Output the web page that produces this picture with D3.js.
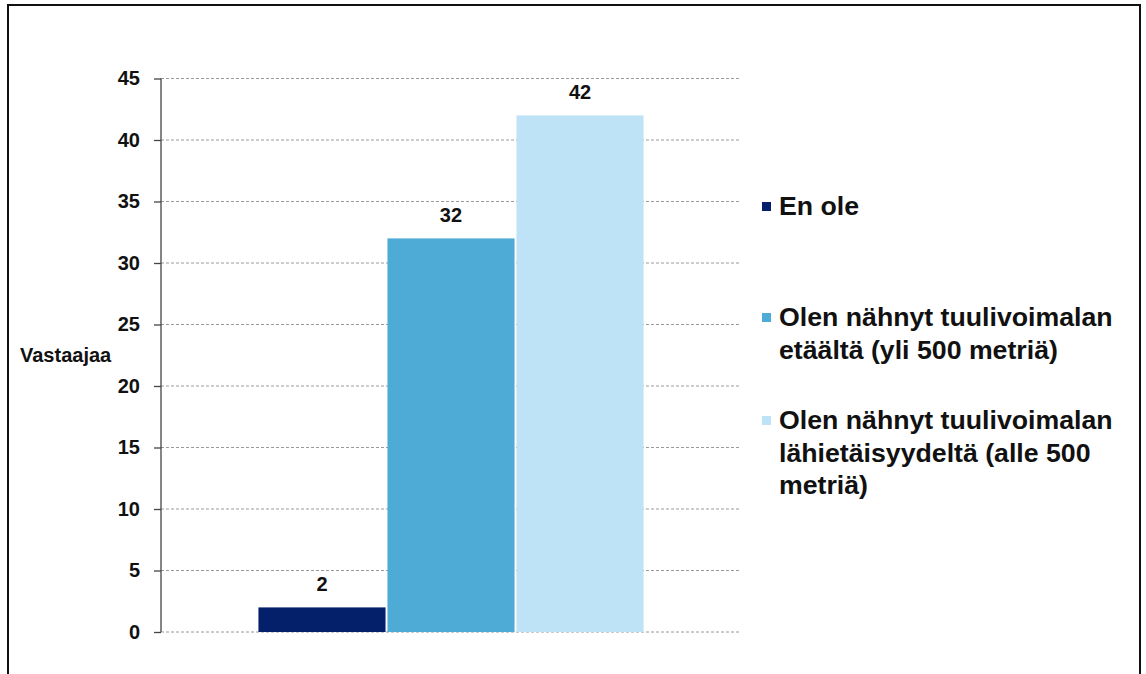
<!DOCTYPE html>
<html>
<head>
<meta charset="utf-8">
<script src="https://d3js.org/d3.v7.min.js"></script>
<style>
  body { margin: 0; background: #fff; }
  svg { display: block; font-family: Arial, "Liberation Sans", sans-serif; font-weight: bold; }
</style>
</head>
<body>
<script>
// data
var categories = [""];
var seriesNames = ["En ole",
  "Olen nähnyt tuulivoimalan etäältä (yli 500 metriä)",
  "Olen nähnyt tuulivoimalan lähietäisyydeltä (alle 500 metriä)"];
var seriesValues = [2, 32, 42];
var legendLines = [["En ole"],
  ["Olen nähnyt tuulivoimalan", "etäältä (yli 500 metriä)"],
  ["Olen nähnyt tuulivoimalan", "lähietäisyydeltä (alle 500", "metriä)"]];
var yTicks = [0, 5, 10, 15, 20, 25, 30, 35, 40, 45];
var colors = ["#04206a", "#4eabd6", "#bee3f6"];

var W = 1146, H = 674;
var svg = d3.select("body").append("svg").attr("width", W).attr("height", H);

// frame
svg.append("rect").attr("x", 8).attr("y", 5).attr("width", 1132).attr("height", 700)
  .attr("fill", "none").attr("stroke", "#111").attr("stroke-width", 2);

// plot area (names avoid window.top etc.)
var pLeft = 161, pRight = 741, pTop = 78.5, pBottom = 632;

var y = d3.scaleLinear().domain([0, 45]).range([pBottom, pTop]);
var x0 = d3.scaleBand().domain(categories).range([pLeft, pRight]).paddingOuter(0.253).paddingInner(0);
var x1 = d3.scaleBand().domain(d3.range(seriesValues.length)).range([0, x0.bandwidth()]).paddingInner(0.015);

// gridlines
svg.append("g").selectAll("line").data(yTicks).enter().append("line")
  .attr("x1", pLeft).attr("x2", pRight)
  .attr("y1", function(d) { return y(d); }).attr("y2", function(d) { return y(d); })
  .attr("stroke", "#9a9a9a").attr("stroke-width", 1).attr("stroke-dasharray", "3,2");

// y axis
var yAxis = d3.axisLeft(y).tickValues(yTicks).tickSize(7).tickPadding(14);
var ga = svg.append("g").attr("transform", "translate(" + pLeft + ",0)").call(yAxis);
ga.select(".domain").attr("stroke", "#444").attr("stroke-width", 1.3).attr("d", "M0," + pTop + "V" + pBottom);
ga.selectAll(".tick line").attr("stroke", "#444").attr("stroke-width", 1.3);
ga.selectAll(".tick text").attr("font-size", 20).attr("font-family", "Arial, 'Liberation Sans', sans-serif")
  .attr("font-weight", "bold").attr("fill", "#111");

// bars
var g = svg.append("g").attr("transform", "translate(" + x0(categories[0]) + ",0)");
g.selectAll("rect").data(seriesValues).enter().append("rect")
  .attr("x", function(d, i) { return x1(i); })
  .attr("y", function(d) { return y(d); })
  .attr("width", x1.bandwidth())
  .attr("height", function(d) { return pBottom - y(d); })
  .attr("fill", function(d, i) { return colors[i]; });

g.selectAll("text").data(seriesValues).enter().append("text")
  .attr("x", function(d, i) { return x1(i) + x1.bandwidth() / 2; })
  .attr("y", function(d) { return y(d) - 16; })
  .attr("text-anchor", "middle").attr("font-size", 20).attr("fill", "#111")
  .text(function(d) { return d; });

// axis title
svg.append("text").attr("x", 20).attr("y", 362).attr("font-size", 20).attr("fill", "#111").text("Vastaajaa");

// legend
var legendY = [215, 326, 429];
var lg = svg.append("g");
legendLines.forEach(function(lines, i) {
  lg.append("rect").attr("x", 762).attr("y", legendY[i] - 13).attr("width", 9).attr("height", 9)
    .attr("fill", colors[i]);
  var t = lg.append("text").attr("x", 779).attr("y", legendY[i]).attr("font-size", 26.7).attr("fill", "#111");
  lines.forEach(function(l, j) {
    t.append("tspan").attr("x", 779).attr("y", legendY[i] + j * 32.5).text(l);
  });
});
</script>
</body>
</html>
